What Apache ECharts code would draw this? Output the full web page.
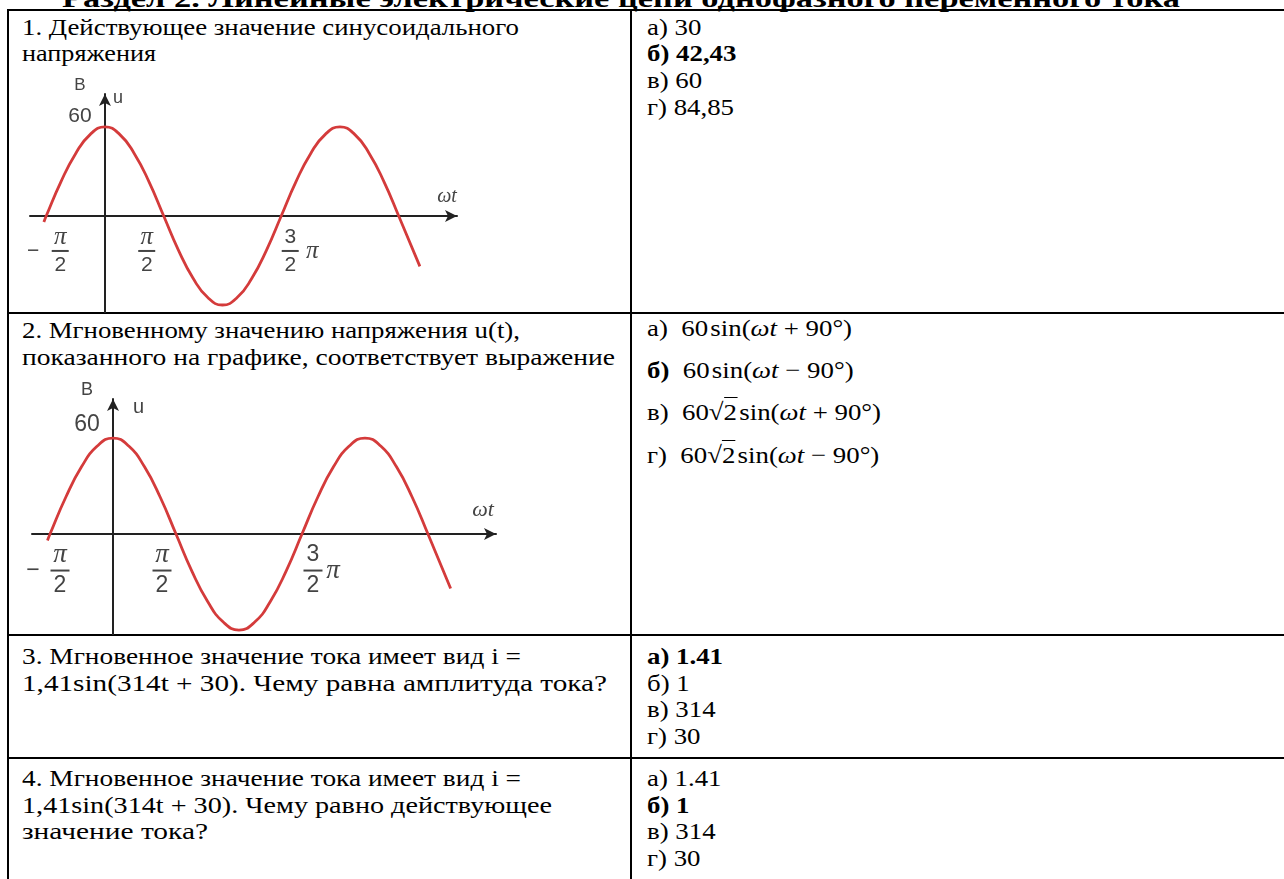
<!DOCTYPE html>
<html lang="ru">
<head>
<meta charset="utf-8">
<title>Раздел 2</title>
<script src="https://cdn.jsdelivr.net/npm/echarts@6/dist/echarts.min.js"></script>
<style>
  html, body { margin: 0; padding: 0; background: #fff; overflow: hidden; }
  #page { position: relative; width: 1284px; height: 879px; overflow: hidden; background: #fff;
    font-family: "Liberation Serif", "Times New Roman", serif; color: #000; }
  .t { position: absolute; font-size: 24px; line-height: 26.7px; white-space: nowrap; }
  .ln { transform-origin: 0 0; white-space: nowrap; }
  .h { position: absolute; height: 2px; background: #000; }
  .v { position: absolute; width: 2px; background: #000; }
  .chart { position: absolute; }
  .ov { border-top: 1.5px solid #000; padding-top: 1px; }
</style>
</head>
<body>
<div id="page">
  <div class="t" style="left:62px;top:-14px;font-size:25px;line-height:25px;font-weight:bold">
    <div class="ln" data-w="1118"><span>Раздел 2. Линейные электрические цепи однофазного переменного тока</span></div>
  </div>

  <div class="h" style="left:7px;top:9px;width:1277px"></div>
  <div class="h" style="left:7px;top:312px;width:1277px"></div>
  <div class="h" style="left:7px;top:634px;width:1277px"></div>
  <div class="h" style="left:7px;top:757px;width:1277px"></div>
  <div class="v" style="left:7px;top:9px;height:870px"></div>
  <div class="v" style="left:630px;top:9px;height:870px"></div>

  <div class="t" style="left:22px;top:13.5px">
    <div class="ln" data-w="497"><span id="ref">1. Действующее значение синусоидального</span></div>
    <div class="ln" data-w="134"><span>напряжения</span></div>
  </div>
  <div class="t" style="left:647px;top:13.5px">
    <div class="ln"><span>а) 30</span></div>
    <div class="ln"><span><b>б) 42,43</b></span></div>
    <div class="ln"><span>в) 60</span></div>
    <div class="ln"><span>г) 84,85</span></div>
  </div>

  <div class="t" style="left:22px;top:317px">
    <div class="ln" data-w="498"><span>2. Мгновенному значению напряжения u(t),</span></div>
    <div class="ln" data-w="593"><span>показанного на графике, соответствует выражение</span></div>
  </div>
  <div class="t" style="left:647px;top:314.5px"><div class="ln"><span>а)&nbsp; 60&#8202;sin(<i>ωt</i> + 90°)</span></div></div>
  <div class="t" style="left:647px;top:356.5px"><div class="ln"><span><b>б)</b>&nbsp; 60&#8202;sin(<i>ωt</i> − 90°)</span></div></div>
  <div class="t" style="left:647px;top:399px"><div class="ln"><span>в)&nbsp; 60√<span class="ov">2</span>&#8202;sin(<i>ωt</i> + 90°)</span></div></div>
  <div class="t" style="left:647px;top:441.5px"><div class="ln"><span>г)&nbsp; 60√<span class="ov">2</span>&#8202;sin(<i>ωt</i> − 90°)</span></div></div>

  <div class="t" style="left:22px;top:643px">
    <div class="ln" data-w="499"><span>3. Мгновенное значение тока имеет вид i =</span></div>
    <div class="ln" data-w="585"><span>1,41sin(314t + 30). Чему равна амплитуда тока?</span></div>
  </div>
  <div class="t" style="left:647px;top:643px">
    <div class="ln"><span><b>а) 1.41</b></span></div>
    <div class="ln"><span>б) 1</span></div>
    <div class="ln"><span>в) 314</span></div>
    <div class="ln"><span>г) 30</span></div>
  </div>

  <div class="t" style="left:22px;top:765px">
    <div class="ln" data-w="499"><span>4. Мгновенное значение тока имеет вид i =</span></div>
    <div class="ln" data-w="530"><span>1,41sin(314t + 30). Чему равно действующее</span></div>
    <div class="ln" data-w="186"><span>значение тока?</span></div>
  </div>
  <div class="t" style="left:647px;top:765px">
    <div class="ln"><span>а) 1.41</span></div>
    <div class="ln"><span><b>б) 1</b></span></div>
    <div class="ln"><span>в) 314</span></div>
    <div class="ln"><span>г) 30</span></div>
  </div>

  <div class="chart" id="c1" style="left:10px;top:62px;width:490px;height:251px"></div>
  <div class="chart" id="c2" style="left:10px;top:380px;width:510px;height:255px"></div>
</div>
<script>
// phase in units of π, voltage in volts
const phase = [-0.52, -0.5, -0.375, -0.25, -0.125, 0, 0.125, 0.25, 0.375, 0.5, 0.625, 0.75, 0.875, 1,
  1.125, 1.25, 1.375, 1.5, 1.625, 1.75, 1.875, 2, 2.125, 2.25, 2.375, 2.5, 2.68];
const voltage = [-4, 0, 23, 42, 55, 60, 55, 42, 23, 0, -23, -42, -55, -60,
  -55, -42, -23, 0, 23, 42, 55, 60, 55, 42, 23, 0, -34];

// tick labels on the ωt axis (values in units of π)
const tickValues = [-0.5, 0.5, 1.5];
const tickSign = ['−', '', ''];
const tickNum = ['π', 'π', '3'];
const tickDen = ['2', '2', '2'];
const tickUnit = ['', '', 'π'];

const peakValue = 60;
const peakLabel = '60';
const unitLabel = 'В';
const yName = 'u';
const xName = 'ωt';

// fit the scanned text widths
const sx = 497 / document.getElementById('ref').getBoundingClientRect().width;
document.querySelectorAll('.ln').forEach(function (el) {
  const w = el.firstElementChild.getBoundingClientRect().width;
  const k = el.dataset.w ? (+el.dataset.w / w) : sx;
  el.style.transform = 'scaleX(' + k + ')';
});

const layouts = [
  {
    id: 'c1', grid: { left: 20, top: 32, width: 427, height: 219 },
    xRange: [-0.638, 2.996], yRange: [-65.4, 82.2], fs: 21, piFs: 25,
    frac: { w: 17, numLh: 20, barLh: 8, denLh: 20, margin: 11, sign: 37, unit: 27,
      pads: [[0, 9], [0, 34], [45, 0]] },
    yLab: { w: 26, bFs: 17, bLh: 40, nLh: 22, margin: 12 },
    names: { xGap: -10, xPadB: 9, xFs: 20, yGap: -4, yPadL: 8, yFs: 18 }
  },
  {
    id: 'c2', grid: { left: 22, top: 19, width: 464, height: 236 },
    xRange: [-0.643, 3.04], yRange: [-63.1, 84.4], fs: 23, piFs: 27,
    frac: { w: 19, numLh: 22, barLh: 9, denLh: 22, margin: 10, sign: 35, unit: 21,
      pads: [[0, 15], [0, 28], [43, 0]] },
    yLab: { w: 28, bFs: 18, bLh: 44, nLh: 26, margin: 12 },
    names: { xGap: -13, xPadB: 13, xFs: 22, yGap: -8, yPadL: 20, yFs: 20 }
  }
];

const labelColor = '#444';
const sans = '"Liberation Sans", Arial, sans-serif';
const serif = '"Liberation Serif", serif';

function buildOption(L) {
  const f = L.frac;
  const rich = {
    num: { fontSize: L.fs, fontFamily: sans, color: labelColor, width: f.w, align: 'center', lineHeight: f.numLh },
    pi: { fontSize: L.piFs, fontFamily: serif, fontStyle: 'italic', color: labelColor, width: f.w, align: 'center', lineHeight: f.numLh },
    den: { fontSize: L.fs, fontFamily: sans, color: labelColor, width: f.w, align: 'center', lineHeight: f.denLh },
    bar: { width: f.w, height: 2, backgroundColor: labelColor, align: 'center', lineHeight: f.barLh },
    sg: { fontSize: L.fs, fontFamily: sans, color: labelColor, width: f.sign, align: 'center', lineHeight: f.barLh },
    un: { fontSize: L.piFs, fontFamily: serif, fontStyle: 'italic', color: labelColor, width: f.unit, align: 'center', lineHeight: f.barLh }
  };
  f.pads.forEach(function (p, i) {
    rich['l' + i] = { width: p[0], align: 'center', lineHeight: f.barLh };
    rich['r' + i] = { width: p[1], align: 'center', lineHeight: f.barLh };
  });

  function fracLabel(value) {
    const i = tickValues.indexOf(value);
    if (i < 0) return '';
    const p = f.pads[i];
    const lp = p[0] ? '{l' + i + '|}' : '';
    const rp = p[1] ? '{r' + i + '|}' : '';
    const s = tickSign[i] ? ['{sg|}', '{sg|' + tickSign[i] + '}', '{sg|}'] : ['', '', ''];
    const u = tickUnit[i] ? ['{un|}', '{un|' + tickUnit[i] + '}', '{un|}'] : ['', '', ''];
    const numStyle = tickNum[i] === 'π' ? 'pi' : 'num';
    return [
      lp + s[0] + '{' + numStyle + '|' + tickNum[i] + '}' + u[0] + rp,
      lp + s[1] + '{bar|}' + u[1] + rp,
      lp + s[2] + '{den|' + tickDen[i] + '}' + u[2] + rp
    ].join('\n');
  }

  const axisLine = {
    onZero: false,
    symbol: ['none', 'arrow'],
    symbolSize: [9, 12],
    lineStyle: { color: '#222', width: 2 }
  };

  return {
    animation: false,
    backgroundColor: 'transparent',
    grid: Object.assign({ containLabel: false, outerBoundsMode: 'none' }, L.grid),
    xAxis: {
      type: 'value',
      min: L.xRange[0], max: L.xRange[1],
      axisLine: axisLine,
      axisTick: { show: false },
      splitLine: { show: false },
      axisLabel: {
        customValues: tickValues,
        margin: f.margin,
        formatter: fracLabel,
        rich: rich
      },
      name: xName,
      nameLocation: 'end',
      nameGap: L.names.xGap,
      nameMoveOverlap: false,
      nameTextStyle: {
        fontFamily: serif, fontStyle: 'italic', fontSize: L.names.xFs,
        color: labelColor, align: 'center', verticalAlign: 'bottom', padding: [0, 0, L.names.xPadB, 0]
      }
    },
    yAxis: {
      type: 'value',
      min: L.yRange[0], max: L.yRange[1],
      axisLine: axisLine,
      axisTick: { show: false },
      splitLine: { show: false },
      axisLabel: {
        customValues: [peakValue],
        margin: L.yLab.margin,
        verticalAlign: 'bottom',
        formatter: function () { return '{b|' + unitLabel + '}\n{n|' + peakLabel + '}'; },
        rich: {
          b: { fontSize: L.yLab.bFs, fontFamily: sans, color: labelColor, width: L.yLab.w, align: 'center', lineHeight: L.yLab.bLh },
          n: { fontSize: L.fs, fontFamily: sans, color: labelColor, width: L.yLab.w, align: 'center', lineHeight: L.yLab.nLh }
        }
      },
      name: yName,
      nameLocation: 'end',
      nameGap: L.names.yGap,
      nameMoveOverlap: false,
      nameTextStyle: {
        fontFamily: sans, fontSize: L.names.yFs, color: labelColor,
        align: 'left', verticalAlign: 'middle', padding: [0, 0, 0, L.names.yPadL]
      }
    },
    series: [{
      type: 'line',
      data: phase.map(function (p, i) { return [p, voltage[i]]; }),
      smooth: 0.5,
      showSymbol: false,
      lineStyle: { color: '#d43b3b', width: 2.8 },
      itemStyle: { color: '#d43b3b' }
    }]
  };
}

layouts.forEach(function (L) {
  const chart = echarts.init(document.getElementById(L.id), null, { renderer: 'canvas' });
  chart.setOption(buildOption(L));
  // move both axes onto the zero lines of the other axis
  const zero = chart.convertToPixel({ gridIndex: 0 }, [0, 0]);
  chart.setOption({
    xAxis: { offset: zero[1] - (L.grid.top + L.grid.height) },
    yAxis: { offset: L.grid.left - zero[0] }
  });
});
</script>
</body>
</html>
